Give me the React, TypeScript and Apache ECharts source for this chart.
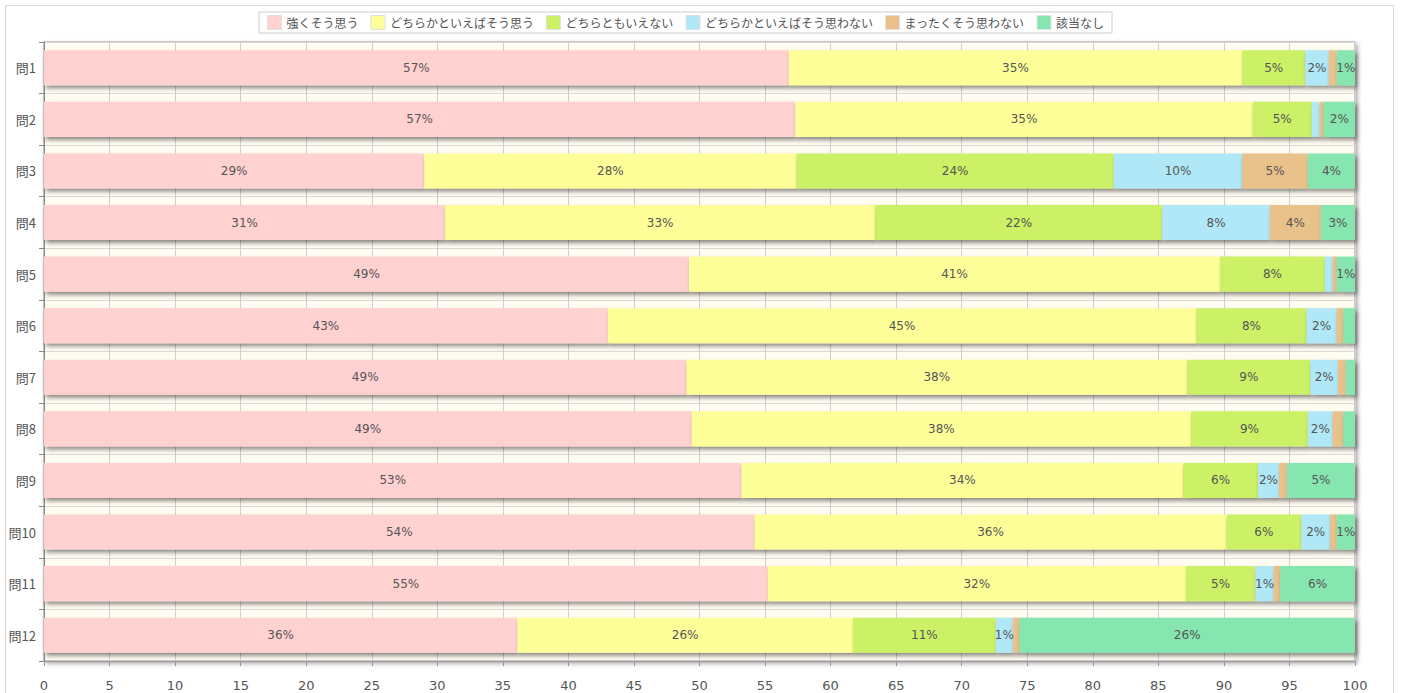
import React, { useEffect, useRef } from "react";
import * as echarts from "echarts";

const categories = ["問1", "問2", "問3", "問4", "問5", "問6", "問7", "問8", "問9", "問10", "問11", "問12"];
const seriesNames = ["強くそう思う", "どちらかといえばそう思う", "どちらともいえない", "どちらかといえばそう思わない", "まったくそう思わない", "該当なし"];
const strongYes = [56.8, 57.3, 29.0, 30.6, 49.2, 43.0, 49.0, 49.4, 53.2, 54.2, 55.2, 36.1];
const ratherYes = [34.6, 34.9, 28.4, 32.8, 40.5, 44.9, 38.2, 38.1, 33.7, 36.0, 31.9, 25.6];
const neutral = [4.8, 4.5, 24.2, 21.9, 8.0, 8.4, 9.4, 8.9, 5.7, 5.7, 5.3, 10.9];
const ratherNo = [1.8, 0.6, 9.8, 8.2, 0.6, 2.3, 2.1, 1.9, 1.6, 2.2, 1.4, 1.3];
const strongNo = [0.6, 0.3, 5.0, 3.9, 0.3, 0.5, 0.6, 0.8, 0.6, 0.5, 0.5, 0.5];
const notApplicable = [1.4, 2.4, 3.6, 2.6, 1.4, 0.9, 0.7, 0.9, 5.2, 1.4, 5.7, 25.6];
const colors = ["#ffd1d1", "#ffff99", "#ccf066", "#b0e8f8", "#e9c18b", "#87e6b0"];
const xTicks = [0, 100, 5];

export default function App() {
  const ref = useRef<HTMLDivElement>(null);
  useEffect(() => {
    if (!ref.current) return;
    const chart = echarts.init(ref.current, null, { renderer: "svg" });
    const values = [strongYes, ratherYes, neutral, ratherNo, strongNo, notApplicable];
    chart.setOption({
      animation: false,
      textStyle: { fontFamily: "'DejaVu Sans', 'Noto Sans CJK JP', sans-serif" },
      graphic: [
        {
          type: "rect",
          shape: { x: 5.5, y: 5.5, width: 1388, height: 700 },
          style: { fill: "none", stroke: "#d9d9d9", lineWidth: 1 },
          silent: true,
          z: -10,
        },
      ],
      legend: {
        top: 12,
        left: 259,
        itemWidth: 14,
        itemHeight: 14,
        itemGap: 12,
        borderColor: "#cccccc",
        borderWidth: 1,
        padding: [3, 8],
        icon: "rect",
        textStyle: { fontSize: 12, color: "#555", fontFamily: "'Noto Sans CJK JP', sans-serif" },
        itemStyle: { borderColor: "#e0e0e0", borderWidth: 1, shadowBlur: 0, shadowOffsetX: 0, shadowOffsetY: 0 },
      },
      grid: {
        left: 44,
        right: 47,
        top: 42,
        bottom: 32,
        show: true,
        backgroundColor: "#fffcf2",
        borderColor: "#999",
        borderWidth: 1,
        shadowColor: "rgba(0,0,0,0.35)",
        shadowBlur: 4,
        shadowOffsetX: 2,
        shadowOffsetY: 2,
      },
      xAxis: {
        type: "value",
        min: xTicks[0],
        max: xTicks[1],
        interval: xTicks[2],
        axisLine: { show: true, lineStyle: { color: "#999" } },
        axisTick: { show: true, length: 5, lineStyle: { color: "#999" } },
        axisLabel: { color: "#555", fontSize: 13, margin: 18 },
        splitLine: { show: true, lineStyle: { color: "#cfcfcf" } },
      },
      yAxis: {
        type: "category",
        inverse: true,
        data: categories,
        axisLine: { show: true, lineStyle: { color: "#888" } },
        axisTick: { show: true, length: 5, lineStyle: { color: "#888" } },
        axisLabel: { color: "#555", fontSize: 13, margin: 8, fontFamily: "'Noto Sans CJK JP', sans-serif" },
        splitLine: { show: true, lineStyle: { color: "#d8d8d8" } },
      },
      series: seriesNames.map((name, i) => ({
        name,
        type: "bar",
        stack: "total",
        barWidth: "68%",
        data: values[i],
        itemStyle: {
          color: colors[i],
          shadowColor: "rgba(0,0,0,0.45)",
          shadowBlur: 4,
          shadowOffsetX: 2,
          shadowOffsetY: 3,
        },
        label: {
          show: true,
          position: "inside",
          color: "#555",
          fontSize: 12,
          formatter: (p: any) => (p.value >= 1 ? Math.round(p.value) + "%" : ""),
        },
      })),
    });
    return () => chart.dispose();
  }, []);
  return (
    <div
      ref={ref}
      style={{ position: "absolute", left: 0, top: 0, width: 1402, height: 693 }}
    />
  );
}
